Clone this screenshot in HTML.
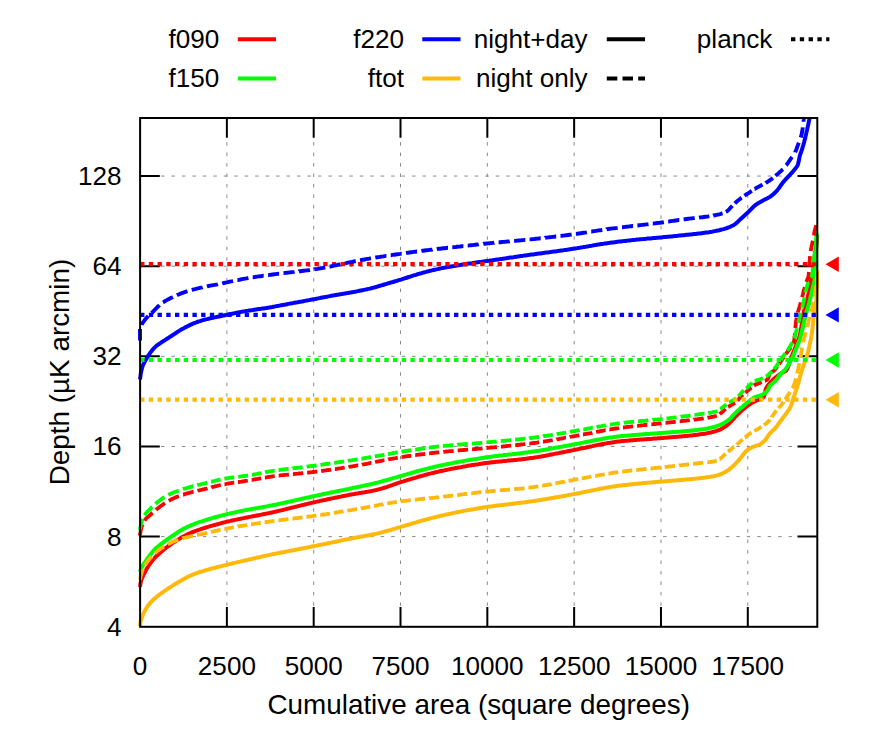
<!DOCTYPE html>
<html><head><meta charset="utf-8"><title>Depth vs cumulative area</title>
<style>html,body{margin:0;padding:0;background:#fff}svg{display:block}text{font-family:"Liberation Sans",sans-serif;font-size:26.10px;fill:#000}</style></head><body>
<svg width="872" height="733" viewBox="0 0 872 733">
<rect x="0" y="0" width="872" height="733" fill="#ffffff"/>
<defs><clipPath id="c"><rect x="137.6" y="118.0" width="682.2" height="510.8"/></clipPath></defs>
<g stroke="#8a8a8a" stroke-width="1.0" stroke-dasharray="3.5 6.96" fill="none">
<path d="M226.87 626.8 V118.0"/>
<path d="M313.69 626.8 V118.0"/>
<path d="M400.51 626.8 V118.0"/>
<path d="M487.33 626.8 V118.0"/>
<path d="M574.15 626.8 V118.0"/>
<path d="M660.97 626.8 V118.0"/>
<path d="M747.79 626.8 V118.0"/>
<path d="M140.1 536.61 H817.2"/>
<path d="M140.1 446.47 H817.2"/>
<path d="M140.1 356.33 H817.2"/>
<path d="M140.1 266.19 H817.2"/>
<path d="M140.1 176.05 H817.2"/>
</g>
<g stroke="#000" stroke-width="2" fill="none">
<path d="M226.87 626.8 v-19.7 M226.87 118.0 v19.7"/>
<path d="M313.69 626.8 v-19.7 M313.69 118.0 v19.7"/>
<path d="M400.51 626.8 v-19.7 M400.51 118.0 v19.7"/>
<path d="M487.33 626.8 v-19.7 M487.33 118.0 v19.7"/>
<path d="M574.15 626.8 v-19.7 M574.15 118.0 v19.7"/>
<path d="M660.97 626.8 v-19.7 M660.97 118.0 v19.7"/>
<path d="M747.79 626.8 v-19.7 M747.79 118.0 v19.7"/>
<path d="M140.1 536.61 h19.7 M817.2 536.61 h-19.7"/>
<path d="M140.1 446.47 h19.7 M817.2 446.47 h-19.7"/>
<path d="M140.1 356.33 h19.7 M817.2 356.33 h-19.7"/>
<path d="M140.1 266.19 h19.7 M817.2 266.19 h-19.7"/>
<path d="M140.1 176.05 h19.7 M817.2 176.05 h-19.7"/>
</g>
<g clip-path="url(#c)" fill="none" stroke-width="4.0" stroke-linejoin="round">
<path stroke="#ff0000" d="M140.0 587.0 L140.2 585.5 L140.4 584.0 L140.7 582.5 L141.0 581.1 L141.4 579.6 L142.0 578.2 L142.6 576.8 L143.2 575.5 L143.9 574.1 L144.6 572.8 L145.3 571.4 L146.0 570.1 L146.7 568.8 L147.5 567.5 L148.3 566.2 L149.1 565.0 L150.0 563.7 L150.9 562.5 L151.8 561.3 L152.7 560.1 L153.7 559.0 L154.7 557.8 L155.7 556.8 L156.8 555.7 L157.9 554.7 L159.0 553.7 L160.1 552.7 L161.3 551.7 L162.4 550.7 L163.6 549.8 L164.7 548.8 L165.9 547.9 L167.1 547.0 L168.3 546.1 L169.5 545.2 L170.8 544.3 L172.0 543.5 L173.2 542.6 L174.5 541.8 L175.7 541.0 L177.0 540.1 L178.3 539.4 L179.6 538.6 L180.9 537.8 L182.2 537.1 L183.5 536.4 L184.8 535.7 L186.2 535.0 L187.5 534.3 L188.9 533.7 L190.3 533.1 L191.6 532.5 L193.0 532.0 L194.4 531.4 L195.8 530.9 L197.3 530.4 L198.7 529.9 L200.1 529.4 L201.5 528.9 L203.0 528.4 L204.4 528.0 L205.8 527.5 L207.3 527.1 L208.7 526.7 L210.2 526.2 L211.6 525.8 L213.0 525.4 L214.5 525.0 L215.9 524.6 L217.4 524.2 L218.8 523.8 L220.3 523.4 L221.8 523.0 L223.2 522.6 L224.7 522.3 L226.1 521.9 L227.6 521.6 L229.1 521.2 L230.5 520.9 L232.0 520.5 L233.5 520.2 L234.9 519.9 L236.4 519.6 L237.9 519.3 L239.4 519.0 L240.8 518.7 L242.3 518.4 L243.8 518.1 L245.3 517.8 L246.7 517.5 L248.2 517.2 L249.7 516.9 L251.2 516.6 L252.7 516.3 L254.1 516.1 L255.6 515.8 L257.1 515.5 L258.6 515.2 L260.0 514.9 L261.5 514.6 L263.0 514.3 L264.5 514.0 L265.9 513.7 L267.4 513.4 L268.9 513.1 L270.4 512.8 L271.8 512.5 L273.3 512.1 L274.8 511.8 L276.2 511.5 L277.7 511.1 L279.2 510.8 L280.6 510.4 L282.1 510.1 L283.6 509.7 L285.0 509.4 L286.5 509.0 L287.9 508.6 L289.4 508.3 L290.9 507.9 L292.3 507.5 L293.8 507.2 L295.2 506.8 L296.7 506.5 L298.2 506.1 L299.6 505.7 L301.1 505.4 L302.6 505.0 L304.0 504.7 L305.5 504.3 L306.9 504.0 L308.4 503.6 L309.9 503.3 L311.3 502.9 L312.8 502.6 L314.3 502.3 L315.7 501.9 L317.2 501.6 L318.7 501.3 L320.1 500.9 L321.6 500.6 L323.1 500.3 L324.6 500.0 L326.0 499.7 L327.5 499.3 L329.0 499.0 L330.4 498.7 L331.9 498.4 L333.4 498.1 L334.9 497.8 L336.3 497.5 L337.8 497.2 L339.3 496.9 L340.8 496.6 L342.2 496.3 L343.7 496.0 L345.2 495.7 L346.7 495.4 L348.1 495.1 L349.6 494.8 L351.1 494.5 L352.6 494.2 L354.1 494.0 L355.5 493.7 L357.0 493.4 L358.5 493.2 L360.0 492.9 L361.5 492.7 L363.0 492.4 L364.5 492.2 L365.9 491.9 L367.4 491.7 L368.9 491.4 L370.4 491.2 L371.9 490.9 L373.3 490.6 L374.8 490.3 L376.3 490.0 L377.7 489.6 L379.2 489.2 L380.6 488.8 L382.1 488.4 L383.5 488.0 L384.9 487.5 L386.4 487.1 L387.8 486.6 L389.2 486.1 L390.6 485.6 L392.1 485.1 L393.5 484.6 L394.9 484.1 L396.3 483.6 L397.8 483.1 L399.2 482.7 L400.6 482.2 L402.1 481.7 L403.5 481.3 L404.9 480.8 L406.4 480.4 L407.8 479.9 L409.3 479.5 L410.7 479.1 L412.1 478.6 L413.6 478.2 L415.0 477.8 L416.5 477.3 L417.9 476.9 L419.4 476.5 L420.8 476.1 L422.3 475.7 L423.7 475.3 L425.2 474.9 L426.6 474.5 L428.1 474.1 L429.5 473.7 L431.0 473.4 L432.5 473.0 L433.9 472.7 L435.4 472.3 L436.8 472.0 L438.3 471.6 L439.8 471.3 L441.2 471.0 L442.7 470.7 L444.2 470.4 L445.7 470.0 L447.1 469.7 L448.6 469.4 L450.1 469.1 L451.5 468.8 L453.0 468.6 L454.5 468.3 L456.0 468.0 L457.5 467.7 L458.9 467.4 L460.4 467.2 L461.9 466.9 L463.4 466.6 L464.9 466.4 L466.4 466.1 L467.9 465.8 L469.3 465.6 L470.8 465.3 L472.3 465.1 L473.8 464.9 L475.3 464.6 L476.8 464.4 L478.3 464.2 L479.8 463.9 L481.2 463.7 L482.7 463.5 L484.2 463.3 L485.7 463.1 L487.2 462.9 L488.7 462.7 L490.2 462.5 L491.7 462.3 L493.2 462.2 L494.7 462.0 L496.2 461.8 L497.7 461.7 L499.2 461.5 L500.7 461.4 L502.2 461.2 L503.7 461.1 L505.2 460.9 L506.7 460.8 L508.2 460.6 L509.7 460.5 L511.2 460.3 L512.7 460.2 L514.2 460.0 L515.7 459.9 L517.1 459.7 L518.6 459.6 L520.1 459.4 L521.6 459.2 L523.1 459.1 L524.6 458.9 L526.1 458.7 L527.6 458.5 L529.1 458.3 L530.6 458.1 L532.1 457.9 L533.6 457.7 L535.0 457.4 L536.5 457.2 L538.0 457.0 L539.5 456.7 L541.0 456.5 L542.5 456.2 L543.9 455.9 L545.4 455.7 L546.9 455.4 L548.4 455.1 L549.9 454.8 L551.3 454.5 L552.8 454.2 L554.3 453.9 L555.8 453.6 L557.2 453.4 L558.7 453.1 L560.2 452.8 L561.7 452.5 L563.2 452.2 L564.6 451.9 L566.1 451.6 L567.6 451.3 L569.1 451.0 L570.5 450.7 L572.0 450.4 L573.5 450.1 L575.0 449.8 L576.5 449.5 L577.9 449.2 L579.4 448.9 L580.9 448.6 L582.4 448.3 L583.8 448.0 L585.3 447.7 L586.8 447.3 L588.3 447.0 L589.7 446.7 L591.2 446.4 L592.7 446.1 L594.2 445.7 L595.6 445.4 L597.1 445.1 L598.6 444.8 L600.1 444.5 L601.5 444.2 L603.0 443.9 L604.5 443.7 L606.0 443.4 L607.5 443.1 L608.9 442.9 L610.4 442.7 L611.9 442.4 L613.4 442.2 L614.9 442.0 L616.4 441.8 L617.8 441.6 L619.3 441.5 L620.8 441.3 L622.3 441.1 L623.8 441.0 L625.3 440.8 L626.8 440.7 L628.3 440.6 L629.8 440.4 L631.3 440.3 L632.8 440.2 L634.3 440.1 L635.8 440.0 L637.3 439.8 L638.8 439.7 L640.3 439.6 L641.8 439.5 L643.3 439.4 L644.8 439.3 L646.3 439.2 L647.8 439.1 L649.3 439.0 L650.8 438.9 L652.3 438.8 L653.8 438.6 L655.3 438.5 L656.8 438.4 L658.3 438.3 L659.9 438.2 L661.4 438.1 L662.9 437.9 L664.4 437.8 L665.9 437.7 L667.4 437.6 L668.9 437.5 L670.4 437.3 L671.9 437.2 L673.4 437.1 L674.9 437.0 L676.4 436.8 L677.9 436.7 L679.4 436.6 L680.9 436.5 L682.4 436.3 L683.9 436.2 L685.4 436.0 L686.9 435.9 L688.4 435.7 L689.9 435.6 L691.4 435.4 L692.9 435.3 L694.3 435.1 L695.8 434.9 L697.3 434.7 L698.8 434.5 L700.3 434.3 L701.8 434.1 L703.3 433.9 L704.8 433.7 L706.3 433.4 L707.8 433.1 L709.3 432.8 L710.8 432.5 L712.2 432.1 L713.7 431.7 L715.1 431.3 L716.5 430.9 L717.9 430.4 L719.3 429.9 L720.7 429.2 L722.0 428.5 L723.4 427.7 L724.6 426.9 L725.9 426.1 L727.1 425.2 L728.2 424.3 L729.3 423.3 L730.4 422.2 L731.4 421.1 L732.4 420.0 L733.5 418.9 L734.5 417.7 L735.5 416.6 L736.6 415.5 L737.6 414.5 L738.7 413.4 L739.8 412.4 L741.0 411.4 L742.1 410.3 L743.2 409.3 L744.3 408.4 L745.5 407.4 L746.7 406.5 L747.9 405.6 L749.1 404.7 L750.4 403.9 L751.6 403.0 L752.9 402.3 L754.3 401.6 L755.6 400.9 L757.0 400.4 L758.4 399.9 L759.9 399.3 L761.3 398.7 L762.7 398.0 L763.6 397.0 L764.3 395.6 L764.8 394.1 L765.1 392.7 L765.4 391.2 L765.6 389.7 L766.1 388.3 L766.9 387.0 L767.7 385.7 L768.6 384.5 L769.6 383.4 L770.6 382.3 L771.7 381.2 L772.7 380.1 L773.8 379.0 L774.9 378.0 L776.1 377.1 L777.3 376.2 L778.5 375.3 L779.7 374.4 L780.9 373.5 L782.2 372.7 L783.5 372.0 L785.0 371.4 L786.1 370.7 L786.9 369.4 L787.6 368.0 L788.2 366.6 L788.7 365.2 L789.1 363.7 L789.6 362.3 L790.1 360.9 L790.6 359.4 L791.2 358.0 L791.7 356.6 L792.2 355.2 L792.8 353.8 L793.3 352.4 L793.9 351.0 L794.5 349.6 L795.1 348.3 L795.6 346.9 L796.2 345.4 L796.7 344.0 L797.3 342.7 L797.9 341.3 L798.4 339.9 L798.9 338.4 L799.4 337.0 L799.8 335.6 L800.1 334.1 L800.4 332.6 L800.7 331.1 L801.0 329.7 L801.2 328.2 L801.4 326.7 L801.7 325.2 L801.9 323.7 L802.1 322.2 L802.3 320.7 L802.5 319.2 L802.8 317.7 L803.0 316.3 L803.2 314.8 L803.5 313.3 L803.9 311.8 L804.2 310.4 L804.6 308.9 L805.0 307.5 L805.4 306.0 L805.8 304.6 L806.2 303.1 L806.6 301.6 L806.9 300.2 L807.3 298.7 L807.7 297.3 L808.1 295.8 L808.4 294.3 L808.8 292.9 L809.1 291.4 L809.4 289.9 L809.7 288.5 L809.9 287.0 L810.1 285.5 L810.4 284.0 L810.6 282.5 L810.9 281.0 L811.3 279.6 L811.9 278.2 L812.6 276.8 L813.0 275.4 L813.1 273.9 L813.2 272.4 L813.3 270.9 L813.4 269.4 L813.5 267.9 L813.5 266.4 L813.6 264.9 L813.8 263.4 L813.9 261.9 L814.1 260.4 L814.3 258.9 L814.5 257.4 L814.7 255.9 L814.9 254.4 L815.1 252.9 L815.4 251.4 L815.6 249.9 L815.8 248.5 L816.1 247.0 L816.3 245.5 L816.5 244.0 L816.6 242.5 L816.8 241.0 L816.9 239.5 L817.1 238.0 L817.2 236.5 L817.3 235.0"/>
<path stroke="#00ff00" d="M140.0 572.0 L140.4 570.5 L140.9 569.1 L141.5 567.7 L142.2 566.4 L143.0 565.1 L143.8 563.9 L144.6 562.6 L145.5 561.4 L146.4 560.1 L147.2 558.9 L148.1 557.7 L149.0 556.5 L149.9 555.3 L150.8 554.1 L151.7 552.9 L152.7 551.7 L153.6 550.6 L154.6 549.5 L155.7 548.4 L156.8 547.4 L158.0 546.5 L159.2 545.5 L160.3 544.6 L161.5 543.7 L162.7 542.8 L163.9 541.9 L165.2 541.0 L166.4 540.1 L167.6 539.2 L168.8 538.4 L170.1 537.5 L171.3 536.7 L172.5 535.8 L173.8 535.0 L175.0 534.1 L176.3 533.3 L177.5 532.5 L178.8 531.6 L180.1 530.8 L181.4 530.1 L182.7 529.3 L184.0 528.6 L185.3 527.9 L186.6 527.2 L188.0 526.6 L189.4 526.0 L190.7 525.4 L192.1 524.8 L193.5 524.3 L194.9 523.7 L196.3 523.2 L197.8 522.7 L199.2 522.2 L200.6 521.7 L202.0 521.3 L203.5 520.8 L204.9 520.3 L206.3 519.9 L207.8 519.4 L209.2 519.0 L210.7 518.6 L212.1 518.2 L213.5 517.7 L215.0 517.3 L216.4 516.9 L217.9 516.5 L219.4 516.1 L220.8 515.7 L222.3 515.4 L223.7 515.0 L225.2 514.6 L226.6 514.3 L228.1 513.9 L229.6 513.6 L231.0 513.2 L232.5 512.9 L234.0 512.6 L235.4 512.3 L236.9 511.9 L238.4 511.6 L239.9 511.3 L241.3 511.0 L242.8 510.7 L244.3 510.4 L245.8 510.1 L247.2 509.9 L248.7 509.6 L250.2 509.3 L251.7 509.0 L253.1 508.8 L254.6 508.5 L256.1 508.2 L257.6 508.0 L259.1 507.7 L260.6 507.4 L262.0 507.2 L263.5 506.9 L265.0 506.7 L266.5 506.4 L268.0 506.1 L269.4 505.8 L270.9 505.5 L272.4 505.3 L273.9 505.0 L275.3 504.7 L276.8 504.4 L278.3 504.0 L279.8 503.7 L281.2 503.4 L282.7 503.1 L284.2 502.8 L285.6 502.5 L287.1 502.1 L288.6 501.8 L290.0 501.5 L291.5 501.1 L293.0 500.8 L294.4 500.5 L295.9 500.1 L297.4 499.8 L298.8 499.5 L300.3 499.1 L301.8 498.8 L303.2 498.5 L304.7 498.1 L306.2 497.8 L307.7 497.5 L309.1 497.2 L310.6 496.8 L312.1 496.5 L313.5 496.2 L315.0 495.9 L316.5 495.6 L317.9 495.3 L319.4 495.0 L320.9 494.7 L322.4 494.3 L323.8 494.0 L325.3 493.7 L326.8 493.4 L328.3 493.1 L329.7 492.8 L331.2 492.5 L332.7 492.2 L334.1 491.9 L335.6 491.6 L337.1 491.3 L338.6 491.0 L340.0 490.7 L341.5 490.4 L343.0 490.1 L344.5 489.8 L345.9 489.5 L347.4 489.2 L348.9 488.9 L350.4 488.5 L351.8 488.2 L353.3 487.9 L354.8 487.6 L356.2 487.3 L357.7 487.0 L359.2 486.7 L360.7 486.4 L362.1 486.1 L363.6 485.8 L365.1 485.4 L366.5 485.1 L368.0 484.8 L369.5 484.5 L371.0 484.1 L372.4 483.8 L373.9 483.5 L375.3 483.1 L376.8 482.7 L378.3 482.4 L379.7 482.0 L381.2 481.6 L382.6 481.2 L384.1 480.8 L385.5 480.4 L387.0 480.0 L388.4 479.6 L389.9 479.2 L391.3 478.7 L392.7 478.3 L394.2 477.9 L395.6 477.5 L397.1 477.1 L398.5 476.6 L400.0 476.2 L401.4 475.8 L402.9 475.4 L404.3 475.0 L405.8 474.6 L407.2 474.2 L408.7 473.7 L410.1 473.3 L411.6 472.9 L413.0 472.5 L414.5 472.1 L415.9 471.7 L417.4 471.3 L418.8 470.9 L420.3 470.5 L421.7 470.1 L423.2 469.7 L424.6 469.3 L426.1 468.9 L427.5 468.6 L429.0 468.2 L430.4 467.8 L431.9 467.5 L433.4 467.1 L434.8 466.8 L436.3 466.5 L437.8 466.1 L439.2 465.8 L440.7 465.5 L442.2 465.2 L443.6 464.9 L445.1 464.6 L446.6 464.3 L448.1 464.0 L449.5 463.7 L451.0 463.4 L452.5 463.1 L454.0 462.8 L455.4 462.5 L456.9 462.2 L458.4 462.0 L459.9 461.7 L461.4 461.4 L462.8 461.2 L464.3 460.9 L465.8 460.6 L467.3 460.4 L468.8 460.1 L470.3 459.9 L471.7 459.6 L473.2 459.4 L474.7 459.1 L476.2 458.9 L477.7 458.7 L479.2 458.4 L480.7 458.2 L482.2 458.0 L483.6 457.8 L485.1 457.5 L486.6 457.3 L488.1 457.1 L489.6 456.9 L491.1 456.7 L492.6 456.5 L494.1 456.3 L495.6 456.1 L497.1 456.0 L498.5 455.8 L500.0 455.6 L501.5 455.4 L503.0 455.3 L504.5 455.1 L506.0 454.9 L507.5 454.8 L509.0 454.6 L510.5 454.4 L512.0 454.3 L513.5 454.1 L515.0 453.9 L516.5 453.7 L518.0 453.6 L519.5 453.4 L521.0 453.2 L522.5 453.0 L524.0 452.8 L525.5 452.6 L526.9 452.4 L528.4 452.2 L529.9 452.0 L531.4 451.8 L532.9 451.6 L534.4 451.4 L535.9 451.1 L537.4 450.9 L538.8 450.7 L540.3 450.4 L541.8 450.2 L543.3 449.9 L544.8 449.7 L546.3 449.4 L547.7 449.2 L549.2 448.9 L550.7 448.6 L552.2 448.4 L553.7 448.1 L555.1 447.8 L556.6 447.6 L558.1 447.3 L559.6 447.0 L561.1 446.7 L562.5 446.5 L564.0 446.2 L565.5 445.9 L567.0 445.7 L568.5 445.4 L569.9 445.1 L571.4 444.8 L572.9 444.6 L574.4 444.3 L575.9 444.0 L577.3 443.7 L578.8 443.5 L580.3 443.2 L581.8 442.9 L583.3 442.6 L584.7 442.3 L586.2 442.0 L587.7 441.7 L589.2 441.4 L590.7 441.1 L592.1 440.8 L593.6 440.5 L595.1 440.2 L596.6 440.0 L598.0 439.7 L599.5 439.4 L601.0 439.1 L602.5 438.8 L604.0 438.6 L605.4 438.3 L606.9 438.1 L608.4 437.8 L609.9 437.6 L611.4 437.4 L612.9 437.2 L614.4 437.0 L615.8 436.8 L617.3 436.6 L618.8 436.4 L620.3 436.3 L621.8 436.1 L623.3 435.9 L624.8 435.8 L626.3 435.7 L627.8 435.5 L629.3 435.4 L630.8 435.3 L632.3 435.1 L633.8 435.0 L635.3 434.9 L636.8 434.8 L638.3 434.7 L639.8 434.6 L641.3 434.5 L642.8 434.3 L644.3 434.2 L645.8 434.1 L647.3 434.0 L648.8 433.9 L650.3 433.8 L651.8 433.7 L653.3 433.6 L654.8 433.5 L656.3 433.4 L657.8 433.2 L659.3 433.1 L660.8 433.0 L662.3 432.9 L663.8 432.8 L665.3 432.7 L666.8 432.6 L668.3 432.5 L669.8 432.3 L671.3 432.2 L672.8 432.1 L674.3 432.0 L675.8 431.9 L677.3 431.8 L678.8 431.7 L680.3 431.6 L681.8 431.4 L683.3 431.3 L684.8 431.2 L686.3 431.1 L687.8 430.9 L689.3 430.8 L690.8 430.6 L692.3 430.5 L693.8 430.3 L695.3 430.2 L696.8 430.0 L698.3 429.8 L699.8 429.6 L701.3 429.4 L702.8 429.2 L704.3 429.0 L705.8 428.7 L707.3 428.5 L708.7 428.2 L710.2 427.8 L711.7 427.5 L713.2 427.1 L714.6 426.8 L716.0 426.4 L717.4 425.9 L718.8 425.4 L720.2 424.9 L721.6 424.2 L723.0 423.5 L724.3 422.8 L725.6 422.0 L726.9 421.2 L728.1 420.4 L729.2 419.4 L730.3 418.4 L731.4 417.3 L732.4 416.2 L733.4 415.1 L734.5 414.0 L735.5 412.9 L736.6 411.8 L737.7 410.8 L738.9 409.8 L740.0 408.8 L741.1 407.8 L742.3 406.9 L743.4 405.9 L744.6 404.9 L745.7 404.0 L746.9 403.0 L748.1 402.1 L749.3 401.1 L750.5 400.1 L751.6 399.2 L752.9 398.3 L754.1 397.5 L755.5 396.9 L756.9 396.5 L758.4 396.1 L759.8 395.7 L761.2 395.1 L762.6 394.5 L763.9 393.8 L765.2 393.0 L766.3 392.0 L767.2 390.8 L768.0 389.5 L768.7 388.1 L769.3 386.7 L770.1 385.5 L771.2 384.5 L772.4 383.5 L773.5 382.5 L774.7 381.5 L775.7 380.5 L776.7 379.3 L777.6 378.1 L778.5 376.9 L779.4 375.7 L780.3 374.5 L781.4 373.4 L782.4 372.4 L783.5 371.3 L784.6 370.3 L785.5 369.1 L786.4 367.9 L787.2 366.6 L788.0 365.3 L788.8 364.1 L789.6 362.8 L790.4 361.5 L791.1 360.2 L791.8 358.8 L792.5 357.5 L793.1 356.1 L793.7 354.7 L794.2 353.3 L794.8 351.9 L795.3 350.5 L795.9 349.1 L796.5 347.7 L797.0 346.3 L797.6 344.9 L798.1 343.5 L798.7 342.2 L799.3 340.8 L799.8 339.4 L800.2 337.9 L800.6 336.5 L801.0 335.0 L801.4 333.5 L801.7 332.1 L802.1 330.6 L802.4 329.1 L802.8 327.7 L803.1 326.2 L803.4 324.8 L803.8 323.3 L804.1 321.8 L804.4 320.3 L804.8 318.9 L805.1 317.4 L805.5 316.0 L805.8 314.5 L806.2 313.0 L806.6 311.6 L807.1 310.2 L807.5 308.7 L807.9 307.3 L808.3 305.8 L808.8 304.4 L809.2 302.9 L809.5 301.5 L809.9 300.0 L810.2 298.6 L810.6 297.1 L810.9 295.6 L811.3 294.2 L811.6 292.7 L811.9 291.2 L812.3 289.8 L812.6 288.3 L813.0 286.8 L813.3 285.4 L813.7 283.9 L814.0 282.4 L814.4 281.0 L814.7 279.5 L815.1 278.0 L815.5 276.6 L815.7 275.1 L815.8 273.6 L815.9 272.1 L815.9 270.6 L816.0 269.1 L816.0 267.6 L816.1 266.1 L816.1 264.6 L816.1 263.1 L816.1 261.6 L816.1 260.1 L816.1 258.6 L816.1 257.1 L816.1 255.5 L816.1 254.0 L816.1 252.5 L816.1 251.0 L816.2 249.5 L816.2 248.0 L816.2 246.5 L816.2 245.0 L816.2 243.5 L816.2 242.0 L816.3 240.5 L816.3 239.0 L816.4 237.5 L816.6 236.0 L816.7 234.5 L816.8 233.0"/>
<path stroke="#0000ff" d="M140.0 379.5 L140.2 378.0 L140.4 376.5 L140.6 375.0 L140.8 373.5 L141.1 372.0 L141.4 370.6 L141.8 369.1 L142.1 367.6 L142.6 366.2 L143.1 364.8 L143.8 363.5 L144.5 362.1 L145.2 360.8 L146.0 359.5 L146.7 358.2 L147.5 356.9 L148.3 355.7 L149.2 354.4 L150.0 353.2 L150.9 351.9 L151.8 350.7 L152.7 349.6 L153.7 348.5 L154.8 347.4 L155.9 346.3 L157.0 345.4 L158.2 344.5 L159.5 343.7 L160.7 342.8 L161.9 342.0 L163.2 341.2 L164.5 340.4 L165.7 339.6 L167.0 338.8 L168.3 338.0 L169.5 337.2 L170.8 336.3 L172.0 335.5 L173.3 334.7 L174.6 333.8 L175.8 333.0 L177.1 332.2 L178.3 331.4 L179.6 330.6 L180.9 329.8 L182.2 329.1 L183.5 328.4 L184.8 327.6 L186.2 326.9 L187.5 326.2 L188.8 325.6 L190.2 324.9 L191.5 324.3 L192.9 323.7 L194.3 323.1 L195.7 322.6 L197.1 322.0 L198.5 321.5 L200.0 321.1 L201.4 320.6 L202.8 320.2 L204.3 319.8 L205.7 319.4 L207.2 319.1 L208.7 318.7 L210.1 318.4 L211.6 318.1 L213.1 317.7 L214.5 317.4 L216.0 317.1 L217.5 316.8 L218.9 316.5 L220.4 316.2 L221.9 315.8 L223.4 315.5 L224.8 315.2 L226.3 314.9 L227.8 314.6 L229.2 314.3 L230.7 314.0 L232.2 313.7 L233.7 313.4 L235.1 313.1 L236.6 312.8 L238.1 312.5 L239.6 312.2 L241.0 311.9 L242.5 311.6 L244.0 311.4 L245.5 311.1 L247.0 310.9 L248.5 310.6 L249.9 310.4 L251.4 310.2 L252.9 310.0 L254.4 309.7 L255.9 309.5 L257.4 309.3 L258.9 309.1 L260.4 308.9 L261.8 308.6 L263.3 308.4 L264.8 308.2 L266.3 308.0 L267.8 307.7 L269.3 307.5 L270.8 307.2 L272.2 307.0 L273.7 306.7 L275.2 306.4 L276.7 306.1 L278.2 305.9 L279.6 305.6 L281.1 305.3 L282.6 305.0 L284.1 304.7 L285.5 304.5 L287.0 304.2 L288.5 303.9 L290.0 303.6 L291.5 303.4 L292.9 303.1 L294.4 302.8 L295.9 302.5 L297.4 302.3 L298.9 302.0 L300.3 301.7 L301.8 301.5 L303.3 301.2 L304.8 300.9 L306.3 300.6 L307.7 300.4 L309.2 300.1 L310.7 299.8 L312.2 299.5 L313.7 299.2 L315.1 299.0 L316.6 298.7 L318.1 298.4 L319.6 298.1 L321.0 297.8 L322.5 297.5 L324.0 297.2 L325.5 296.9 L326.9 296.7 L328.4 296.4 L329.9 296.1 L331.4 295.8 L332.9 295.5 L334.3 295.3 L335.8 295.0 L337.3 294.7 L338.8 294.5 L340.3 294.2 L341.7 294.0 L343.2 293.7 L344.7 293.5 L346.2 293.2 L347.7 293.0 L349.2 292.7 L350.6 292.5 L352.1 292.2 L353.6 291.9 L355.1 291.7 L356.6 291.4 L358.0 291.1 L359.5 290.8 L361.0 290.5 L362.5 290.2 L363.9 289.9 L365.4 289.6 L366.9 289.3 L368.3 288.9 L369.8 288.6 L371.3 288.2 L372.7 287.8 L374.2 287.5 L375.6 287.1 L377.1 286.7 L378.5 286.2 L380.0 285.8 L381.4 285.4 L382.8 285.0 L384.3 284.5 L385.7 284.1 L387.2 283.7 L388.6 283.2 L390.1 282.8 L391.5 282.4 L392.9 282.0 L394.4 281.5 L395.8 281.1 L397.3 280.7 L398.7 280.2 L400.1 279.8 L401.6 279.4 L403.0 278.9 L404.4 278.4 L405.9 278.0 L407.3 277.5 L408.7 277.0 L410.2 276.6 L411.6 276.1 L413.0 275.7 L414.5 275.2 L415.9 274.8 L417.3 274.3 L418.8 273.9 L420.2 273.5 L421.7 273.1 L423.1 272.6 L424.6 272.2 L426.0 271.9 L427.5 271.5 L428.9 271.1 L430.4 270.7 L431.9 270.4 L433.3 270.0 L434.8 269.7 L436.3 269.4 L437.7 269.1 L439.2 268.7 L440.7 268.4 L442.1 268.1 L443.6 267.9 L445.1 267.6 L446.6 267.3 L448.1 267.0 L449.5 266.8 L451.0 266.5 L452.5 266.2 L454.0 266.0 L455.5 265.7 L457.0 265.5 L458.4 265.2 L459.9 265.0 L461.4 264.7 L462.9 264.5 L464.4 264.3 L465.9 264.0 L467.4 263.8 L468.8 263.6 L470.3 263.4 L471.8 263.2 L473.3 262.9 L474.8 262.7 L476.3 262.5 L477.8 262.3 L479.3 262.1 L480.8 261.9 L482.2 261.7 L483.7 261.5 L485.2 261.3 L486.7 261.1 L488.2 260.9 L489.7 260.6 L491.2 260.4 L492.7 260.2 L494.2 260.0 L495.7 259.8 L497.1 259.6 L498.6 259.4 L500.1 259.1 L501.6 258.9 L503.1 258.7 L504.6 258.5 L506.1 258.3 L507.6 258.0 L509.1 257.8 L510.5 257.6 L512.0 257.4 L513.5 257.2 L515.0 256.9 L516.5 256.7 L518.0 256.5 L519.5 256.3 L521.0 256.1 L522.5 255.9 L523.9 255.6 L525.4 255.4 L526.9 255.2 L528.4 255.0 L529.9 254.8 L531.4 254.6 L532.9 254.4 L534.4 254.2 L535.9 254.0 L537.4 253.8 L538.8 253.6 L540.3 253.4 L541.8 253.2 L543.3 253.0 L544.8 252.8 L546.3 252.6 L547.8 252.4 L549.3 252.2 L550.8 252.0 L552.3 251.8 L553.8 251.6 L555.2 251.4 L556.7 251.2 L558.2 251.0 L559.7 250.8 L561.2 250.6 L562.7 250.4 L564.2 250.1 L565.7 249.9 L567.2 249.7 L568.7 249.5 L570.1 249.3 L571.6 249.1 L573.1 248.8 L574.6 248.6 L576.1 248.4 L577.6 248.1 L579.1 247.9 L580.5 247.6 L582.0 247.4 L583.5 247.1 L585.0 246.9 L586.5 246.6 L588.0 246.4 L589.4 246.1 L590.9 245.9 L592.4 245.6 L593.9 245.3 L595.4 245.1 L596.9 244.8 L598.3 244.6 L599.8 244.3 L601.3 244.1 L602.8 243.9 L604.3 243.6 L605.8 243.4 L607.3 243.2 L608.7 243.0 L610.2 242.8 L611.7 242.6 L613.2 242.4 L614.7 242.2 L616.2 242.0 L617.7 241.8 L619.2 241.6 L620.7 241.4 L622.2 241.2 L623.7 241.1 L625.2 240.9 L626.7 240.7 L628.2 240.6 L629.6 240.4 L631.1 240.2 L632.6 240.1 L634.1 239.9 L635.6 239.8 L637.1 239.6 L638.6 239.5 L640.1 239.3 L641.6 239.2 L643.1 239.1 L644.6 238.9 L646.1 238.8 L647.6 238.6 L649.1 238.5 L650.6 238.4 L652.1 238.2 L653.6 238.1 L655.1 238.0 L656.6 237.8 L658.1 237.7 L659.6 237.5 L661.1 237.4 L662.6 237.2 L664.1 237.1 L665.6 237.0 L667.1 236.8 L668.6 236.7 L670.1 236.5 L671.6 236.4 L673.1 236.2 L674.6 236.1 L676.1 235.9 L677.6 235.8 L679.1 235.6 L680.6 235.5 L682.1 235.3 L683.6 235.2 L685.1 235.0 L686.5 234.8 L688.0 234.7 L689.5 234.5 L691.0 234.4 L692.5 234.2 L694.0 234.0 L695.5 233.9 L697.0 233.7 L698.5 233.5 L700.0 233.4 L701.5 233.2 L703.0 233.0 L704.5 232.8 L706.0 232.6 L707.5 232.4 L709.0 232.2 L710.4 231.9 L711.9 231.7 L713.4 231.4 L714.9 231.1 L716.4 230.8 L717.9 230.5 L719.3 230.2 L720.8 229.8 L722.2 229.4 L723.7 229.1 L725.1 228.6 L726.6 228.2 L728.0 227.6 L729.4 227.1 L730.8 226.5 L732.2 225.8 L733.5 225.2 L734.7 224.4 L735.9 223.5 L737.0 222.5 L738.1 221.5 L739.2 220.4 L740.4 219.3 L741.5 218.3 L742.6 217.3 L743.7 216.3 L744.8 215.3 L745.9 214.3 L747.0 213.2 L748.1 212.2 L749.2 211.1 L750.3 210.1 L751.3 209.0 L752.4 207.9 L753.4 206.8 L754.6 205.8 L755.7 204.9 L756.9 204.0 L758.2 203.2 L759.5 202.4 L760.8 201.7 L762.1 201.0 L763.4 200.2 L764.8 199.5 L766.1 198.9 L767.5 198.2 L768.8 197.4 L770.1 196.7 L771.3 195.8 L772.5 194.9 L773.6 193.9 L774.8 192.9 L775.8 191.8 L776.9 190.8 L777.8 189.6 L778.7 188.4 L779.6 187.2 L780.4 185.9 L781.3 184.7 L782.2 183.5 L783.1 182.3 L784.1 181.1 L785.1 180.0 L786.1 178.9 L787.1 177.8 L788.2 176.7 L789.2 175.6 L790.2 174.5 L791.2 173.4 L792.2 172.3 L793.3 171.1 L794.2 170.0 L795.2 168.8 L796.1 167.6 L797.0 166.4 L797.7 165.1 L798.1 163.7 L798.5 162.3 L798.8 160.8 L799.1 159.3 L799.4 157.8 L799.7 156.3 L800.1 154.9 L800.6 153.4 L801.1 152.0 L801.6 150.6 L802.1 149.2 L802.5 147.7 L802.9 146.3 L803.4 144.8 L803.8 143.4 L804.2 141.9 L804.5 140.5 L804.9 139.0 L805.3 137.6 L805.6 136.1 L806.0 134.6 L806.3 133.2 L806.6 131.7 L807.0 130.2 L807.3 128.8 L807.6 127.3 L808.0 125.8 L808.3 124.4 L808.6 122.9 L808.9 121.4 L809.2 119.9 L809.5 118.5 L809.8 117.0 L810.0 115.5 L810.2 114.0"/>
<path stroke="#ffb90a" d="M140.0 626.0 L140.1 624.5 L140.3 623.0 L140.6 621.5 L141.0 620.1 L141.5 618.7 L142.0 617.2 L142.5 615.8 L143.1 614.4 L143.7 613.1 L144.4 611.7 L145.1 610.4 L145.8 609.1 L146.6 607.8 L147.4 606.5 L148.3 605.3 L149.2 604.1 L150.2 602.9 L151.2 601.8 L152.2 600.8 L153.3 599.7 L154.4 598.7 L155.6 597.8 L156.7 596.8 L157.9 595.8 L159.1 594.9 L160.3 594.0 L161.5 593.1 L162.7 592.3 L163.9 591.4 L165.1 590.5 L166.4 589.7 L167.6 588.9 L168.9 588.0 L170.2 587.2 L171.4 586.4 L172.7 585.6 L174.0 584.8 L175.2 584.0 L176.5 583.2 L177.8 582.5 L179.1 581.7 L180.4 580.9 L181.7 580.2 L183.0 579.4 L184.3 578.7 L185.6 578.0 L187.0 577.3 L188.3 576.6 L189.7 576.0 L191.0 575.4 L192.4 574.8 L193.8 574.2 L195.2 573.7 L196.6 573.2 L198.0 572.7 L199.4 572.2 L200.9 571.7 L202.3 571.3 L203.7 570.9 L205.2 570.4 L206.6 570.0 L208.1 569.6 L209.5 569.2 L211.0 568.8 L212.4 568.4 L213.9 568.0 L215.3 567.7 L216.8 567.3 L218.2 566.9 L219.7 566.5 L221.2 566.2 L222.6 565.8 L224.1 565.4 L225.5 565.1 L227.0 564.7 L228.5 564.3 L229.9 564.0 L231.4 563.6 L232.8 563.3 L234.3 562.9 L235.8 562.6 L237.2 562.2 L238.7 561.9 L240.1 561.6 L241.6 561.2 L243.1 560.9 L244.5 560.5 L246.0 560.2 L247.5 559.9 L248.9 559.5 L250.4 559.2 L251.9 558.9 L253.3 558.5 L254.8 558.2 L256.3 557.9 L257.7 557.5 L259.2 557.2 L260.7 556.9 L262.1 556.5 L263.6 556.2 L265.1 555.9 L266.5 555.6 L268.0 555.3 L269.5 554.9 L270.9 554.6 L272.4 554.3 L273.9 554.0 L275.4 553.7 L276.8 553.4 L278.3 553.1 L279.8 552.8 L281.2 552.5 L282.7 552.2 L284.2 552.0 L285.7 551.7 L287.1 551.4 L288.6 551.1 L290.1 550.8 L291.6 550.5 L293.1 550.3 L294.5 550.0 L296.0 549.7 L297.5 549.4 L299.0 549.1 L300.4 548.8 L301.9 548.6 L303.4 548.3 L304.9 548.0 L306.3 547.7 L307.8 547.4 L309.3 547.1 L310.8 546.8 L312.2 546.5 L313.7 546.2 L315.2 545.9 L316.7 545.6 L318.1 545.3 L319.6 545.0 L321.1 544.7 L322.5 544.4 L324.0 544.1 L325.5 543.8 L327.0 543.5 L328.4 543.2 L329.9 542.9 L331.4 542.6 L332.8 542.3 L334.3 542.0 L335.8 541.7 L337.3 541.4 L338.7 541.1 L340.2 540.8 L341.7 540.4 L343.1 540.1 L344.6 539.8 L346.1 539.5 L347.6 539.2 L349.0 539.0 L350.5 538.7 L352.0 538.4 L353.5 538.1 L354.9 537.8 L356.4 537.5 L357.9 537.2 L359.4 537.0 L360.8 536.7 L362.3 536.4 L363.8 536.2 L365.3 535.9 L366.8 535.6 L368.2 535.4 L369.7 535.1 L371.2 534.8 L372.7 534.5 L374.1 534.2 L375.6 533.9 L377.1 533.6 L378.5 533.2 L380.0 532.9 L381.4 532.5 L382.9 532.1 L384.3 531.7 L385.8 531.3 L387.2 530.9 L388.7 530.5 L390.1 530.1 L391.6 529.6 L393.0 529.2 L394.4 528.8 L395.9 528.3 L397.3 527.9 L398.8 527.5 L400.2 527.1 L401.6 526.6 L403.1 526.2 L404.5 525.8 L406.0 525.3 L407.4 524.9 L408.9 524.5 L410.3 524.1 L411.7 523.6 L413.2 523.2 L414.6 522.8 L416.1 522.4 L417.5 521.9 L419.0 521.5 L420.4 521.1 L421.8 520.7 L423.3 520.3 L424.7 519.9 L426.2 519.5 L427.6 519.1 L429.1 518.7 L430.5 518.3 L432.0 517.9 L433.4 517.6 L434.9 517.2 L436.4 516.9 L437.8 516.5 L439.3 516.2 L440.7 515.8 L442.2 515.5 L443.7 515.2 L445.1 514.8 L446.6 514.5 L448.1 514.2 L449.5 513.9 L451.0 513.6 L452.5 513.2 L454.0 512.9 L455.4 512.6 L456.9 512.3 L458.4 512.0 L459.9 511.7 L461.3 511.5 L462.8 511.2 L464.3 510.9 L465.8 510.6 L467.2 510.3 L468.7 510.0 L470.2 509.8 L471.7 509.5 L473.2 509.2 L474.6 509.0 L476.1 508.7 L477.6 508.5 L479.1 508.2 L480.6 508.0 L482.1 507.8 L483.5 507.5 L485.0 507.3 L486.5 507.1 L488.0 506.8 L489.5 506.6 L491.0 506.4 L492.5 506.2 L493.9 506.0 L495.4 505.8 L496.9 505.6 L498.4 505.4 L499.9 505.2 L501.4 505.1 L502.9 504.9 L504.4 504.7 L505.9 504.5 L507.4 504.4 L508.9 504.2 L510.4 504.0 L511.8 503.8 L513.3 503.7 L514.8 503.5 L516.3 503.3 L517.8 503.1 L519.3 503.0 L520.8 502.8 L522.3 502.6 L523.8 502.4 L525.3 502.2 L526.8 502.0 L528.3 501.8 L529.7 501.6 L531.2 501.4 L532.7 501.1 L534.2 500.9 L535.7 500.7 L537.2 500.5 L538.7 500.2 L540.1 500.0 L541.6 499.8 L543.1 499.5 L544.6 499.3 L546.1 499.0 L547.6 498.8 L549.0 498.5 L550.5 498.3 L552.0 498.0 L553.5 497.8 L555.0 497.5 L556.4 497.2 L557.9 497.0 L559.4 496.7 L560.9 496.5 L562.4 496.2 L563.8 495.9 L565.3 495.7 L566.8 495.4 L568.3 495.1 L569.8 494.9 L571.2 494.6 L572.7 494.3 L574.2 494.0 L575.7 493.8 L577.1 493.5 L578.6 493.2 L580.1 492.9 L581.6 492.6 L583.1 492.3 L584.5 492.0 L586.0 491.7 L587.5 491.4 L588.9 491.1 L590.4 490.8 L591.9 490.5 L593.4 490.2 L594.8 489.9 L596.3 489.6 L597.8 489.3 L599.3 489.0 L600.7 488.7 L602.2 488.4 L603.7 488.2 L605.2 487.9 L606.6 487.6 L608.1 487.4 L609.6 487.1 L611.1 486.9 L612.6 486.6 L614.1 486.4 L615.5 486.2 L617.0 486.0 L618.5 485.8 L620.0 485.6 L621.5 485.4 L623.0 485.2 L624.5 485.0 L626.0 484.9 L627.4 484.7 L628.9 484.5 L630.4 484.4 L631.9 484.2 L633.4 484.1 L634.9 483.9 L636.4 483.8 L637.9 483.7 L639.4 483.5 L640.9 483.4 L642.4 483.2 L643.9 483.1 L645.4 483.0 L646.9 482.8 L648.4 482.7 L649.9 482.6 L651.4 482.4 L652.9 482.3 L654.4 482.2 L655.9 482.0 L657.4 481.9 L658.9 481.8 L660.4 481.7 L661.9 481.5 L663.4 481.4 L664.9 481.3 L666.4 481.2 L667.9 481.0 L669.4 480.9 L670.9 480.8 L672.4 480.7 L673.9 480.6 L675.4 480.4 L676.9 480.3 L678.4 480.2 L679.9 480.1 L681.4 480.0 L682.9 479.8 L684.4 479.7 L685.9 479.6 L687.4 479.5 L688.9 479.3 L690.3 479.2 L691.8 479.0 L693.3 478.9 L694.8 478.8 L696.3 478.6 L697.8 478.4 L699.3 478.3 L700.8 478.1 L702.3 477.9 L703.8 477.7 L705.3 477.6 L706.8 477.3 L708.3 477.1 L709.8 476.9 L711.3 476.6 L712.8 476.4 L714.2 476.1 L715.7 475.7 L717.1 475.4 L718.5 475.0 L720.0 474.5 L721.4 473.9 L722.8 473.2 L724.1 472.6 L725.5 471.8 L726.7 471.1 L728.0 470.3 L729.2 469.5 L730.3 468.5 L731.5 467.5 L732.6 466.5 L733.7 465.5 L734.8 464.4 L735.9 463.3 L736.9 462.2 L738.0 461.2 L739.0 460.0 L739.9 458.8 L740.9 457.6 L741.8 456.4 L742.7 455.1 L743.7 453.9 L744.6 452.8 L745.6 451.7 L746.7 450.7 L747.8 449.8 L749.0 448.9 L750.3 448.2 L751.7 447.5 L753.0 446.8 L754.4 446.3 L755.9 445.8 L757.3 445.4 L758.8 444.9 L760.1 444.3 L761.4 443.6 L762.6 442.6 L763.7 441.6 L764.8 440.5 L765.7 439.4 L766.6 438.1 L767.4 436.9 L768.2 435.6 L769.1 434.4 L770.1 433.2 L771.1 432.2 L772.2 431.1 L773.3 430.1 L774.4 429.1 L775.4 427.9 L776.3 426.8 L777.2 425.6 L778.1 424.3 L779.0 423.1 L779.9 421.9 L780.8 420.7 L781.7 419.5 L782.6 418.3 L783.5 417.1 L784.4 415.9 L785.3 414.7 L786.2 413.5 L787.0 412.2 L788.0 411.0 L788.8 409.8 L789.7 408.5 L790.3 407.2 L790.9 405.9 L791.4 404.4 L791.9 403.0 L792.3 401.6 L792.8 400.1 L793.2 398.7 L793.7 397.2 L794.2 395.8 L794.7 394.4 L795.2 393.0 L795.6 391.5 L796.1 390.1 L796.6 388.7 L797.0 387.3 L797.4 385.8 L797.9 384.4 L798.3 382.9 L798.7 381.5 L799.1 380.0 L799.5 378.6 L799.9 377.1 L800.3 375.7 L800.7 374.2 L801.1 372.8 L801.6 371.4 L802.0 369.9 L802.5 368.5 L802.9 367.1 L803.4 365.6 L803.9 364.2 L804.5 362.8 L805.1 361.5 L805.7 360.1 L806.2 358.7 L806.6 357.2 L807.0 355.8 L807.4 354.4 L807.8 352.9 L808.2 351.4 L808.5 350.0 L808.8 348.5 L809.2 347.0 L809.5 345.6 L809.8 344.1 L810.2 342.6 L810.5 341.1 L810.8 339.7 L811.1 338.2 L811.4 336.7 L811.6 335.2 L811.8 333.8 L812.0 332.3 L812.2 330.8 L812.4 329.3 L812.6 327.8 L812.7 326.3 L812.9 324.8 L813.0 323.3 L813.2 321.8 L813.3 320.3 L813.5 318.8 L813.6 317.3 L813.8 315.8 L814.0 314.3 L814.2 312.9 L814.5 311.4 L814.8 309.9 L815.2 308.4 L815.5 307.0 L815.8 305.5 L816.0 304.0 L816.2 302.5 L816.3 301.0 L816.4 299.5 L816.5 298.0 L816.5 296.5 L816.6 295.0 L816.6 293.5 L816.7 292.0 L816.7 290.5 L816.8 289.0 L816.8 287.5 L816.9 286.0 L816.9 284.5 L817.0 283.0 L817.0 281.5 L817.1 280.0 L817.2 278.5 L817.4 277.0"/>
<path stroke="#ff0000" stroke-width="3.8" d="M140.0 535.5 L140.0 535.0 L140.2 533.5 L140.5 532.0 L140.8 530.5 L141.1 529.1 L141.5 527.6 L141.9 526.2 L142.4 524.8 L142.5 524.5 M144.5 520.6 L144.7 520.3 L145.6 519.1 L146.6 518.0 L147.8 517.1 L148.9 516.1 L150.1 515.1 L151.2 514.1 L152.2 513.0 L152.6 512.7 M155.9 509.8 L156.0 509.7 L157.2 508.8 L158.4 507.9 L159.6 507.0 L160.8 506.1 L162.0 505.2 L163.2 504.3 L164.4 503.5 L165.0 503.1 M168.7 500.8 L169.1 500.6 L170.4 499.9 L171.7 499.2 L173.1 498.6 L174.4 497.9 L175.8 497.3 L177.2 496.7 L178.6 496.2 L178.9 496.1 M183.1 494.6 L183.3 494.6 L184.7 494.1 L186.2 493.7 L187.6 493.3 L189.1 492.9 L190.5 492.5 L192.0 492.1 L193.4 491.8 L193.5 491.8 M197.5 490.8 L197.8 490.7 L199.3 490.4 L200.7 490.0 L202.2 489.7 L203.6 489.3 L205.1 488.9 L206.6 488.6 L207.5 488.3 M211.2 487.4 L211.4 487.3 L212.9 486.9 L214.3 486.6 L215.8 486.2 L217.2 485.9 L218.7 485.5 L220.2 485.2 L220.8 485.1 M224.5 484.3 L224.6 484.3 L226.0 484.0 L227.5 483.7 L229.0 483.5 L230.5 483.2 L231.9 483.0 L233.4 482.7 L234.2 482.6 M238.0 482.0 L238.4 482.0 L239.9 481.8 L241.3 481.6 L242.8 481.3 L244.3 481.1 L245.8 480.9 L247.3 480.7 L247.8 480.6 M251.6 479.9 L251.7 479.9 L253.2 479.7 L254.7 479.4 L256.2 479.1 L257.6 478.9 L259.1 478.6 L260.6 478.3 L261.2 478.2 M264.9 477.5 L265.0 477.5 L266.5 477.3 L268.0 477.0 L269.5 476.8 L271.0 476.6 L272.4 476.4 L273.9 476.2 L274.7 476.1 M278.7 475.6 L278.9 475.6 L280.4 475.4 L281.9 475.2 L283.4 475.1 L284.9 474.9 L286.4 474.8 L287.8 474.6 L288.9 474.5 M292.9 474.1 L293.3 474.1 L294.8 473.9 L296.3 473.8 L297.8 473.7 L299.3 473.5 L300.8 473.4 L302.3 473.2 L303.2 473.1 M307.1 472.7 L307.3 472.7 L308.8 472.5 L310.3 472.3 L311.8 472.2 L313.2 472.0 L314.7 471.8 L316.2 471.6 L317.3 471.5 M321.2 471.0 L321.2 471.0 L322.7 470.8 L324.2 470.6 L325.7 470.4 L327.1 470.2 L328.6 470.0 L330.1 469.8 L331.1 469.6 M334.9 469.1 L335.1 469.1 L336.6 468.8 L338.0 468.6 L339.5 468.4 L341.0 468.2 L342.5 467.9 L344.0 467.7 L344.7 467.6 M348.5 467.0 L348.9 466.9 L350.4 466.7 L351.9 466.5 L353.4 466.2 L354.8 466.0 L356.3 465.7 L357.8 465.4 L358.2 465.4 M362.0 464.7 L362.2 464.6 L363.7 464.4 L365.2 464.1 L366.7 463.8 L368.1 463.5 L369.6 463.2 L371.1 462.9 L371.4 462.9 M375.1 462.1 L375.5 462.0 L377.0 461.7 L378.4 461.4 L379.9 461.1 L381.4 460.8 L382.9 460.5 L384.3 460.2 L384.4 460.2 M388.1 459.5 L388.3 459.4 L389.7 459.2 L391.2 458.9 L392.7 458.6 L394.2 458.3 L395.6 458.1 L397.1 457.8 L397.7 457.7 M401.5 457.1 L401.6 457.1 L403.0 456.9 L404.5 456.6 L406.0 456.4 L407.5 456.2 L409.0 456.0 L410.5 455.8 L411.3 455.7 M415.2 455.1 L415.4 455.1 L416.9 454.9 L418.4 454.7 L419.9 454.5 L421.4 454.3 L422.9 454.1 L424.4 454.0 L425.2 453.9 M429.1 453.4 L429.3 453.4 L430.8 453.2 L432.3 453.0 L433.8 452.9 L435.3 452.7 L436.8 452.5 L438.3 452.4 L439.3 452.3 M443.3 451.9 L443.8 451.8 L445.3 451.7 L446.7 451.5 L448.2 451.4 L449.7 451.2 L451.2 451.1 L452.7 451.0 L453.6 450.9 M457.7 450.5 L457.7 450.5 L459.2 450.4 L460.7 450.2 L462.2 450.1 L463.7 450.0 L465.2 449.9 L466.7 449.7 L468.1 449.6 M472.1 449.3 L472.2 449.3 L473.7 449.1 L475.2 449.0 L476.7 448.9 L478.2 448.7 L479.7 448.6 L481.1 448.5 L482.5 448.3 M486.5 448.0 L486.6 448.0 L488.1 447.8 L489.6 447.7 L491.1 447.5 L492.6 447.4 L494.1 447.3 L495.6 447.1 L496.9 447.0 M500.9 446.6 L501.1 446.6 L502.6 446.5 L504.1 446.3 L505.6 446.2 L507.1 446.0 L508.6 445.9 L510.1 445.7 L511.2 445.6 M515.2 445.2 L515.5 445.2 L517.0 445.0 L518.5 444.9 L520.0 444.7 L521.5 444.5 L523.0 444.4 L524.5 444.2 L525.3 444.1 M529.3 443.6 L529.4 443.6 L530.9 443.4 L532.4 443.2 L533.9 443.0 L535.4 442.8 L536.9 442.6 L538.4 442.3 L539.2 442.2 M543.0 441.6 L543.3 441.6 L544.8 441.3 L546.3 441.1 L547.7 440.8 L549.2 440.6 L550.7 440.3 L552.2 440.1 L552.7 440.0 M556.4 439.4 L556.6 439.3 L558.1 439.1 L559.6 438.8 L561.1 438.5 L562.5 438.3 L564.0 438.0 L565.5 437.7 L566.0 437.7 M569.7 437.0 L569.9 436.9 L571.4 436.7 L572.9 436.4 L574.4 436.1 L575.9 435.9 L577.3 435.6 L578.8 435.3 L579.3 435.2 M583.0 434.5 L583.2 434.5 L584.7 434.2 L586.2 433.9 L587.7 433.6 L589.1 433.3 L590.6 433.1 L592.1 432.8 L592.4 432.7 M596.1 432.0 L596.5 431.9 L598.0 431.6 L599.5 431.3 L600.9 431.0 L602.4 430.8 L603.9 430.5 L605.4 430.2 L605.6 430.2 M609.4 429.5 L609.8 429.5 L611.3 429.2 L612.8 429.0 L614.2 428.7 L615.7 428.5 L617.2 428.3 L618.7 428.1 L619.2 428.0 M623.0 427.5 L623.1 427.5 L624.6 427.3 L626.1 427.1 L627.6 426.9 L629.1 426.8 L630.6 426.6 L632.1 426.4 L633.1 426.3 M637.1 425.8 L637.6 425.8 L639.0 425.6 L640.5 425.5 L642.0 425.3 L643.5 425.2 L645.0 425.0 L646.5 424.8 L647.3 424.8 M651.3 424.3 L651.5 424.3 L653.0 424.2 L654.5 424.0 L656.0 423.8 L657.5 423.7 L659.0 423.5 L660.5 423.4 L661.5 423.2 M665.5 422.8 L665.9 422.8 L667.4 422.6 L668.9 422.4 L670.4 422.3 L671.9 422.1 L673.4 422.0 L674.9 421.8 L675.7 421.7 M679.7 421.3 L679.9 421.3 L681.4 421.1 L682.9 420.9 L684.3 420.8 L685.8 420.6 L687.3 420.4 L688.8 420.3 L689.8 420.1 M693.7 419.7 L693.8 419.6 L695.3 419.5 L696.8 419.3 L698.3 419.1 L699.8 418.9 L701.3 418.7 L702.8 418.5 L703.7 418.3 M707.5 417.8 L707.9 417.7 L709.4 417.5 L710.9 417.2 L712.3 416.9 L713.8 416.6 L715.2 416.2 L716.5 415.8 L716.8 415.7 M719.6 414.2 L719.8 414.0 L721.0 413.1 L722.1 412.0 L723.3 411.0 L724.4 409.9 L725.6 408.8 L725.6 408.8 M728.1 407.0 L728.5 406.8 L729.7 406.0 L731.1 405.2 L732.4 404.4 L733.7 403.6 L734.9 402.8 L735.1 402.7 M737.5 400.7 L737.5 400.6 L738.5 399.5 L739.4 398.2 L740.3 397.0 L741.3 396.0 L742.4 395.0 L742.8 394.6 M745.2 392.7 L745.5 392.4 L746.7 391.5 L747.9 390.5 L749.0 389.5 L750.2 388.5 L751.3 387.5 L751.3 387.5 M753.8 385.5 L754.1 385.3 L755.3 384.6 L756.7 384.1 L758.1 383.6 L759.6 383.0 L760.9 382.4 L761.6 382.1 M764.8 380.8 L765.2 380.7 L766.6 380.1 L767.6 379.2 L768.3 377.9 L768.8 376.4 L769.4 374.9 L769.6 374.3 M771.6 372.0 L772.1 371.8 L773.4 371.1 L774.5 370.1 L775.5 369.0 L776.4 367.7 L777.3 366.5 L777.4 366.4 M779.1 363.8 L779.3 363.6 L780.1 362.4 L781.0 361.1 L781.8 359.9 L782.7 358.7 L783.6 357.4 L783.8 357.1 M785.6 354.5 L785.8 354.1 L786.7 352.9 L787.6 351.7 L788.5 350.5 L789.4 349.3 L790.2 348.1 L790.6 347.3 M792.8 343.5 L793.0 343.3 L793.7 341.9 L794.1 340.5 L794.4 339.1 L794.5 337.6 L794.7 336.1 L794.8 334.6 L794.9 333.2 M795.4 328.1 L795.4 328.1 L795.5 326.6 L795.6 325.1 L795.8 323.6 L796.0 322.1 L796.2 320.6 L796.4 319.1 L796.7 317.7 M797.8 312.5 L797.8 312.3 L798.3 310.8 L798.7 309.4 L799.1 308.0 L799.6 306.5 L800.0 305.1 L800.5 303.6 L800.8 302.4 M802.1 297.3 L802.2 296.9 L802.6 295.4 L803.0 293.9 L803.3 292.5 L803.7 291.0 L804.1 289.6 L804.5 288.1 L804.8 287.1 M806.3 282.1 L806.4 281.9 L806.9 280.5 L807.5 279.1 L808.1 277.7 L808.5 276.3 L808.7 274.8 L808.8 273.3 L808.9 272.0 M809.2 266.7 L809.2 266.3 L809.3 264.8 L809.4 263.3 L809.5 261.8 L809.7 260.3 L809.8 258.8 L809.9 257.3 L810.0 256.2 M810.7 251.0 L810.7 250.9 L811.0 249.4 L811.3 247.9 L811.6 246.4 L811.9 245.0 L812.2 243.5 L812.5 242.0 L812.8 240.7 M813.7 235.5 L813.8 235.1 L814.1 233.7 L814.4 232.2 L814.7 230.7 L815.1 229.3 L815.5 227.8 L815.9 226.4 L816.2 225.3"/>
<path stroke="#ff0000" stroke-width="4.2" stroke-dasharray="4.35 4.37" d="M140.1 264.2 H817.2"/>
<path stroke="#00ff00" stroke-width="3.8" d="M140.0 530.0 L140.0 529.5 L140.2 528.0 L140.5 526.5 L140.8 525.0 L141.1 523.6 L141.5 522.1 L142.0 520.7 L142.6 519.3 L142.7 519.1 M144.7 515.2 L144.9 514.9 L145.7 513.6 L146.7 512.5 L147.7 511.4 L148.8 510.3 L149.8 509.3 L150.9 508.2 L151.9 507.1 L152.3 506.8 M155.5 503.8 L155.6 503.7 L156.8 502.7 L157.9 501.8 L159.1 500.9 L160.3 500.0 L161.5 499.1 L162.7 498.2 L164.0 497.4 L164.5 497.1 M168.3 494.9 L168.7 494.7 L170.1 494.0 L171.4 493.4 L172.8 492.8 L174.2 492.2 L175.6 491.7 L177.0 491.2 L178.4 490.7 L178.8 490.6 M182.9 489.2 L183.1 489.1 L184.6 488.7 L186.0 488.2 L187.5 487.8 L188.9 487.4 L190.3 487.0 L191.8 486.6 L193.2 486.2 L193.3 486.2 M197.3 485.2 L197.6 485.1 L199.1 484.7 L200.5 484.4 L202.0 484.0 L203.4 483.6 L204.9 483.3 L206.4 482.9 L207.3 482.7 M211.0 481.7 L211.2 481.7 L212.7 481.3 L214.1 481.0 L215.6 480.6 L217.1 480.3 L218.5 479.9 L220.0 479.6 L220.6 479.5 M224.4 478.8 L224.9 478.7 L226.4 478.4 L227.8 478.2 L229.3 477.9 L230.8 477.7 L232.3 477.5 L233.8 477.3 L234.2 477.3 M238.2 476.8 L238.2 476.8 L239.7 476.6 L241.2 476.4 L242.7 476.2 L244.2 476.0 L245.7 475.8 L247.2 475.6 L248.1 475.5 M251.9 474.8 L252.1 474.8 L253.6 474.5 L255.1 474.3 L256.5 474.0 L258.0 473.7 L259.5 473.4 L261.0 473.1 L261.4 473.0 M265.1 472.3 L265.4 472.2 L266.9 472.0 L268.3 471.7 L269.8 471.4 L271.3 471.2 L272.8 471.0 L274.3 470.7 L274.7 470.7 M278.6 470.1 L278.7 470.1 L280.2 469.9 L281.7 469.7 L283.2 469.5 L284.7 469.3 L286.2 469.1 L287.6 468.9 L288.6 468.8 M292.5 468.4 L292.6 468.3 L294.1 468.2 L295.6 468.0 L297.1 467.8 L298.6 467.6 L300.1 467.5 L301.6 467.3 L302.6 467.2 M306.6 466.7 L307.0 466.6 L308.5 466.4 L310.0 466.2 L311.5 466.0 L313.0 465.8 L314.5 465.6 L316.0 465.5 L316.6 465.4 M320.4 464.8 L320.4 464.8 L321.9 464.6 L323.4 464.4 L324.9 464.2 L326.4 464.0 L327.9 463.8 L329.4 463.6 L330.3 463.5 M334.2 462.9 L334.3 462.9 L335.8 462.7 L337.3 462.5 L338.8 462.2 L340.3 462.0 L341.8 461.8 L343.2 461.6 L344.1 461.5 M347.9 460.9 L348.2 460.8 L349.7 460.6 L351.2 460.4 L352.6 460.2 L354.1 459.9 L355.6 459.7 L357.1 459.4 L357.6 459.4 M361.4 458.7 L361.5 458.7 L363.0 458.5 L364.5 458.2 L366.0 458.0 L367.5 457.7 L368.9 457.4 L370.4 457.2 L371.1 457.1 M374.8 456.4 L374.8 456.4 L376.3 456.1 L377.8 455.9 L379.3 455.6 L380.8 455.3 L382.2 455.1 L383.7 454.8 L384.4 454.7 M388.1 454.0 L388.2 454.0 L389.6 453.8 L391.1 453.5 L392.6 453.2 L394.1 453.0 L395.6 452.7 L397.0 452.5 L397.8 452.4 M401.5 451.8 L402.0 451.7 L403.5 451.5 L404.9 451.2 L406.4 451.0 L407.9 450.7 L409.4 450.5 L410.9 450.3 L411.3 450.2 M415.1 449.6 L415.3 449.6 L416.8 449.4 L418.3 449.1 L419.8 448.9 L421.3 448.7 L422.8 448.5 L424.2 448.3 L425.0 448.2 M428.8 447.6 L429.2 447.6 L430.7 447.4 L432.2 447.2 L433.7 447.0 L435.2 446.9 L436.7 446.7 L438.1 446.5 L438.9 446.5 M442.9 446.0 L443.1 446.0 L444.6 445.9 L446.1 445.7 L447.6 445.6 L449.1 445.5 L450.6 445.3 L452.1 445.2 L453.3 445.1 M457.3 444.8 L457.6 444.7 L459.1 444.6 L460.6 444.5 L462.1 444.4 L463.6 444.2 L465.1 444.1 L466.6 444.0 L467.8 443.9 M471.9 443.6 L472.1 443.6 L473.6 443.5 L475.0 443.3 L476.5 443.2 L478.0 443.1 L479.5 443.0 L481.0 442.8 L482.3 442.7 M486.4 442.4 L486.5 442.4 L488.0 442.2 L489.5 442.1 L491.0 442.0 L492.5 441.8 L494.0 441.7 L495.5 441.6 L496.7 441.4 M500.8 441.1 L501.0 441.1 L502.5 440.9 L504.0 440.8 L505.5 440.6 L507.0 440.5 L508.5 440.4 L510.0 440.2 L511.1 440.1 M515.1 439.7 L515.4 439.7 L516.9 439.5 L518.4 439.4 L519.9 439.2 L521.4 439.1 L522.9 438.9 L524.4 438.7 L525.3 438.6 M529.2 438.2 L529.4 438.1 L530.9 438.0 L532.3 437.8 L533.8 437.6 L535.3 437.4 L536.8 437.2 L538.3 437.0 L539.2 436.8 M543.0 436.3 L543.2 436.2 L544.7 436.0 L546.2 435.8 L547.7 435.5 L549.2 435.3 L550.7 435.1 L552.1 434.8 L552.8 434.7 M556.6 434.1 L556.6 434.1 L558.1 433.8 L559.6 433.6 L561.0 433.3 L562.5 433.1 L564.0 432.8 L565.5 432.6 L566.2 432.4 M570.0 431.8 L570.4 431.7 L571.9 431.5 L573.4 431.2 L574.9 431.0 L576.3 430.7 L577.8 430.4 L579.3 430.2 L579.6 430.1 M583.3 429.4 L583.7 429.4 L585.2 429.1 L586.7 428.8 L588.2 428.5 L589.6 428.3 L591.1 428.0 L592.6 427.7 L592.8 427.7 M596.5 427.0 L597.0 426.9 L598.5 426.6 L600.0 426.3 L601.5 426.1 L602.9 425.8 L604.4 425.5 L605.9 425.3 L606.1 425.2 M609.9 424.6 L610.3 424.6 L611.8 424.3 L613.3 424.1 L614.8 423.9 L616.3 423.7 L617.8 423.5 L619.2 423.3 L619.8 423.2 M623.8 422.8 L624.2 422.7 L625.7 422.6 L627.2 422.4 L628.7 422.2 L630.2 422.1 L631.7 421.9 L633.2 421.8 L634.0 421.7 M638.0 421.3 L638.1 421.3 L639.6 421.2 L641.1 421.0 L642.6 420.9 L644.1 420.8 L645.6 420.6 L647.1 420.5 L648.3 420.4 M652.4 420.0 L652.6 419.9 L654.1 419.8 L655.6 419.6 L657.1 419.5 L658.6 419.3 L660.1 419.2 L661.6 419.0 L662.6 418.9 M666.5 418.5 L666.5 418.5 L668.0 418.3 L669.5 418.1 L671.0 417.9 L672.5 417.8 L674.0 417.6 L675.5 417.4 L676.6 417.3 M680.6 416.8 L681.0 416.7 L682.5 416.5 L683.9 416.3 L685.4 416.1 L686.9 416.0 L688.4 415.8 L689.9 415.6 L690.6 415.5 M694.4 414.9 L694.9 414.9 L696.4 414.7 L697.8 414.5 L699.3 414.2 L700.8 414.0 L702.4 413.8 L703.9 413.6 L704.4 413.6 M708.2 413.1 L708.5 413.0 L710.0 412.8 L711.4 412.5 L712.9 412.2 L714.3 411.9 L715.7 411.6 L717.0 411.2 L717.5 411.0 M720.2 409.4 L720.4 409.3 L721.6 408.3 L722.8 407.3 L724.0 406.3 L725.2 405.3 L726.4 404.4 L726.5 404.3 M729.2 402.6 L729.4 402.5 L730.7 401.7 L732.0 401.0 L733.3 400.2 L734.6 399.4 L735.8 398.6 L736.2 398.3 M738.5 396.2 L738.7 395.9 L739.7 394.7 L740.6 393.6 L741.7 392.5 L742.8 391.5 L743.9 390.4 L743.9 390.4 M746.2 388.3 L746.5 388.1 L747.6 387.1 L748.7 386.1 L749.8 385.0 L750.9 383.9 L752.1 382.9 L752.1 382.8 M754.7 381.0 L754.9 381.0 L756.2 380.4 L757.7 380.0 L759.2 379.6 L760.6 379.1 L762.0 378.5 L763.0 378.0 M765.9 376.5 L766.1 376.4 L767.3 375.6 L768.5 374.7 L769.5 373.7 L770.5 372.6 L771.7 371.6 L772.0 371.3 M774.2 369.1 L774.5 368.7 L775.4 367.5 L776.3 366.3 L777.1 365.1 L778.0 363.8 L778.8 362.6 L778.9 362.5 M780.7 359.9 L780.8 359.7 L781.7 358.5 L782.5 357.2 L783.4 356.0 L784.2 354.8 L785.1 353.5 L785.3 353.2 M787.2 350.7 L787.5 350.3 L788.4 349.1 L789.2 347.9 L790.0 346.6 L790.7 345.3 L791.5 344.0 L792.2 342.6 L792.3 342.4 M794.1 338.2 L794.2 338.1 L794.7 336.6 L795.1 335.2 L795.5 333.8 L795.9 332.3 L796.3 330.9 L796.7 329.4 L797.0 328.1 M798.3 323.0 L798.4 322.6 L798.7 321.1 L799.1 319.7 L799.4 318.2 L799.8 316.8 L800.1 315.3 L800.5 313.8 L800.8 312.8 M802.1 307.7 L802.2 307.6 L802.5 306.1 L802.9 304.6 L803.3 303.2 L803.6 301.7 L803.9 300.3 L804.2 298.8 L804.5 297.4 M805.6 292.2 L805.6 291.9 L806.0 290.5 L806.3 289.0 L806.7 287.5 L807.1 286.0 L807.5 284.6 L807.9 283.1 L808.2 282.1 M810.8 277.5 L810.9 277.4 L811.7 276.2 L812.1 274.8 L812.4 273.4 L812.6 271.9 L812.7 270.4 L812.9 268.9 L813.0 267.4 M813.6 262.2 L813.6 261.8 L813.8 260.3 L814.0 258.9 L814.1 257.4 L814.3 255.9 L814.5 254.4 L814.7 252.9 L814.9 251.7 M815.7 246.5 L815.7 246.5 L815.9 245.0 L816.1 243.5 L816.3 242.0 L816.4 240.5 L816.5 239.0 L816.6 237.5 L816.7 236.1"/>
<path stroke="#00ff00" stroke-width="4.2" stroke-dasharray="4.35 4.37" d="M140.1 360.0 H817.2"/>
<path stroke="#0000ff" stroke-width="3.9" d="M140.0 340.4 L140.0 339.9 L140.0 338.3 L140.0 336.8 L140.0 335.3 L140.0 333.8 L140.0 332.3 L140.0 330.8 L140.0 329.4 L140.0 329.1 M141.6 325.0 L141.7 324.7 L142.4 323.4 L143.2 322.1 L144.1 320.9 L145.0 319.7 L146.0 318.5 L147.0 317.4 L148.0 316.4 L148.3 316.1 M151.6 313.2 L151.8 313.0 L152.8 312.0 L153.8 310.9 L154.8 309.8 L155.9 308.7 L156.9 307.6 L158.0 306.5 L159.1 305.5 L159.5 305.1 M163.0 302.4 L163.4 302.2 L164.6 301.4 L165.9 300.6 L167.2 299.9 L168.5 299.2 L169.8 298.5 L171.2 297.8 L172.5 297.2 L172.9 297.0 M176.9 295.2 L177.1 295.1 L178.5 294.5 L179.8 293.9 L181.2 293.4 L182.6 292.8 L184.0 292.3 L185.5 291.8 L186.9 291.4 L187.5 291.2 M191.7 289.9 L192.1 289.8 L193.6 289.4 L195.1 289.1 L196.5 288.7 L198.0 288.4 L199.4 288.0 L200.9 287.7 L202.4 287.4 L202.7 287.3 M206.9 286.4 L207.2 286.3 L208.7 286.0 L210.2 285.7 L211.7 285.4 L213.1 285.1 L214.6 284.9 L216.1 284.6 L217.6 284.3 L217.9 284.2 M222.2 283.4 L222.5 283.3 L223.9 283.0 L225.4 282.7 L226.9 282.4 L228.3 282.0 L229.8 281.7 L231.3 281.4 L232.7 281.1 L233.1 281.0 M237.4 280.1 L237.6 280.1 L239.1 279.8 L240.6 279.5 L242.0 279.2 L243.5 278.9 L245.0 278.6 L246.5 278.4 L247.9 278.1 L248.4 278.0 M252.7 277.3 L252.9 277.3 L254.4 277.1 L255.8 276.8 L257.3 276.6 L258.8 276.4 L260.3 276.2 L261.8 276.0 L263.3 275.7 L263.7 275.7 M268.1 275.1 L268.2 275.1 L269.7 274.9 L271.2 274.7 L272.7 274.5 L274.2 274.3 L275.7 274.1 L277.2 273.9 L278.7 273.7 L279.1 273.7 M283.5 273.1 L283.6 273.1 L285.1 272.9 L286.6 272.8 L288.1 272.6 L289.6 272.4 L291.1 272.2 L292.6 272.1 L294.1 271.9 L294.6 271.8 M298.9 271.4 L299.0 271.3 L300.5 271.2 L302.0 271.0 L303.5 270.8 L305.0 270.6 L306.5 270.4 L308.0 270.3 L309.5 270.1 L310.0 270.0 M314.3 269.4 L314.4 269.3 L315.9 269.1 L317.4 268.9 L318.8 268.6 L320.3 268.4 L321.8 268.1 L323.3 267.8 L324.7 267.5 L325.3 267.4 M329.6 266.6 L329.7 266.6 L331.1 266.3 L332.6 266.0 L334.1 265.7 L335.5 265.4 L337.0 265.1 L338.5 264.7 L340.0 264.4 L340.5 264.3 M344.8 263.4 L344.8 263.4 L346.3 263.1 L347.8 262.7 L349.2 262.4 L350.7 262.1 L352.2 261.8 L353.7 261.5 L355.1 261.2 L355.8 261.1 M360.0 260.3 L360.0 260.3 L361.5 260.0 L363.0 259.7 L364.5 259.5 L365.9 259.2 L367.4 258.9 L368.9 258.7 L370.4 258.4 L371.0 258.3 M375.3 257.6 L375.8 257.5 L377.3 257.3 L378.8 257.1 L380.3 256.8 L381.7 256.6 L383.2 256.4 L384.7 256.1 L386.2 255.9 L386.4 255.9 M390.7 255.2 L391.1 255.2 L392.6 254.9 L394.1 254.7 L395.6 254.5 L397.1 254.3 L398.6 254.1 L400.0 253.9 L401.5 253.6 L401.7 253.6 M406.0 253.0 L406.5 252.9 L408.0 252.7 L409.5 252.5 L410.9 252.3 L412.4 252.1 L413.9 251.9 L415.4 251.7 L416.9 251.5 L417.1 251.5 M421.4 250.9 L421.9 250.8 L423.3 250.7 L424.8 250.5 L426.3 250.3 L427.8 250.1 L429.3 249.9 L430.8 249.7 L432.3 249.6 L432.5 249.5 M436.8 249.1 L437.3 249.0 L438.7 248.8 L440.2 248.7 L441.7 248.5 L443.2 248.3 L444.7 248.2 L446.2 248.0 L447.7 247.8 L448.0 247.8 M452.3 247.3 L452.7 247.3 L454.2 247.1 L455.7 247.0 L457.1 246.8 L458.6 246.6 L460.1 246.5 L461.6 246.3 L463.1 246.1 L463.4 246.1 M467.7 245.6 L468.1 245.6 L469.6 245.4 L471.1 245.2 L472.6 245.1 L474.1 244.9 L475.5 244.7 L477.0 244.5 L478.5 244.4 L478.8 244.3 M483.2 243.9 L483.5 243.8 L485.0 243.7 L486.5 243.5 L488.0 243.4 L489.5 243.2 L491.0 243.1 L492.5 242.9 L494.0 242.8 L494.3 242.7 M498.6 242.3 L498.9 242.3 L500.4 242.2 L501.9 242.0 L503.4 241.9 L504.9 241.8 L506.4 241.6 L507.9 241.5 L509.4 241.4 L509.8 241.3 M514.1 240.9 L514.4 240.9 L515.9 240.8 L517.4 240.6 L518.9 240.5 L520.4 240.4 L521.9 240.2 L523.4 240.1 L524.8 239.9 L525.3 239.9 M529.6 239.4 L529.8 239.4 L531.3 239.3 L532.8 239.1 L534.3 239.0 L535.8 238.8 L537.3 238.6 L538.8 238.5 L540.3 238.3 L540.7 238.3 M545.1 237.8 L545.2 237.7 L546.7 237.6 L548.2 237.4 L549.7 237.2 L551.2 237.1 L552.7 236.9 L554.2 236.7 L555.7 236.5 L556.2 236.5 M560.5 235.9 L560.6 235.9 L562.1 235.7 L563.6 235.6 L565.1 235.4 L566.6 235.2 L568.1 235.0 L569.6 234.8 L571.1 234.6 L571.6 234.5 M575.9 233.9 L576.0 233.9 L577.5 233.7 L579.0 233.5 L580.5 233.3 L582.0 233.0 L583.4 232.8 L584.9 232.6 L586.4 232.4 L586.9 232.3 M591.2 231.6 L591.4 231.6 L592.8 231.3 L594.3 231.1 L595.8 230.9 L597.3 230.6 L598.8 230.4 L600.3 230.2 L601.7 230.0 L602.3 229.9 M606.6 229.3 L606.7 229.2 L608.2 229.0 L609.7 228.8 L611.2 228.6 L612.6 228.4 L614.1 228.3 L615.6 228.1 L617.1 227.9 L617.7 227.8 M622.0 227.3 L622.1 227.3 L623.6 227.1 L625.1 226.9 L626.5 226.7 L628.0 226.6 L629.5 226.4 L631.0 226.2 L632.5 226.0 L633.1 226.0 M637.4 225.5 L637.5 225.5 L639.0 225.3 L640.5 225.1 L642.0 224.9 L643.4 224.8 L644.9 224.6 L646.4 224.4 L647.9 224.2 L648.5 224.1 M652.8 223.6 L652.9 223.6 L654.4 223.4 L655.9 223.2 L657.3 223.0 L658.8 222.9 L660.3 222.7 L661.8 222.5 L663.3 222.3 L663.9 222.2 M668.2 221.6 L668.3 221.6 L669.7 221.3 L671.2 221.1 L672.7 220.9 L674.2 220.7 L675.7 220.5 L677.2 220.3 L678.6 220.0 L679.3 220.0 M683.6 219.4 L683.6 219.4 L685.1 219.2 L686.6 219.0 L688.1 218.8 L689.6 218.6 L691.1 218.4 L692.5 218.3 L694.0 218.1 L694.7 218.0 M699.0 217.6 L699.5 217.5 L701.0 217.4 L702.5 217.2 L704.0 217.0 L705.5 216.8 L707.0 216.6 L708.4 216.4 L709.3 216.2 M713.2 215.6 L713.4 215.5 L714.9 215.3 L716.3 214.9 L717.8 214.6 L719.2 214.3 L720.7 213.9 L722.2 213.4 L722.6 213.3 M725.9 211.9 L726.3 211.7 L727.5 210.9 L728.6 209.9 L729.6 208.8 L730.6 207.6 L731.6 206.5 L732.3 205.7 M734.8 203.4 L734.9 203.3 L736.0 202.3 L737.1 201.3 L738.3 200.3 L739.4 199.4 L740.6 198.4 L741.6 197.7 M744.4 195.7 L744.7 195.5 L746.0 194.7 L747.2 193.9 L748.5 193.1 L749.7 192.3 L751.0 191.4 L751.8 190.9 M754.7 189.0 L754.8 189.0 L756.0 188.2 L757.3 187.4 L758.6 186.7 L760.0 186.0 L761.3 185.3 L762.6 184.7 M765.6 183.0 L765.7 182.9 L767.0 182.2 L768.2 181.3 L769.5 180.5 L770.7 179.6 L771.9 178.7 L772.9 177.9 M775.6 175.8 L775.8 175.6 L777.0 174.6 L778.1 173.6 L779.2 172.6 L780.4 171.6 L781.5 170.6 L782.5 169.5 L782.9 169.2 M786.2 165.4 L786.5 165.1 L787.3 163.8 L788.2 162.6 L789.0 161.3 L789.9 160.1 L790.7 158.8 L791.6 157.6 L792.1 157.0 M795.2 152.3 L795.2 152.2 L795.8 150.9 L796.4 149.5 L796.8 148.0 L797.3 146.6 L797.9 145.2 L798.4 143.8 L798.9 142.7 M800.8 137.5 L800.9 137.2 L801.3 135.8 L801.6 134.3 L801.9 132.9 L802.2 131.4 L802.4 129.9 L802.7 128.4 L802.8 127.4 M803.5 121.8 L803.5 121.5 L803.7 120.0 L803.8 118.5 L804.0 117.0 L804.1 115.5 L804.2 114.0"/>
<path stroke="#0000ff" stroke-width="4.2" stroke-dasharray="4.35 4.37" d="M140.1 314.9 H817.2"/>
<path stroke="#ffb90a" stroke-width="3.8" d="M140.0 580.0 L140.1 579.5 L140.3 578.0 L140.6 576.5 L141.0 575.1 L141.4 573.6 L141.8 572.2 L142.3 570.8 L142.9 569.4 L143.0 569.1 M145.0 565.2 L145.1 564.9 L145.9 563.7 L146.8 562.4 L147.6 561.2 L148.6 560.0 L149.5 558.8 L150.5 557.7 L151.5 556.6 L151.8 556.2 M154.9 553.1 L155.0 553.0 L156.1 552.1 L157.3 551.1 L158.5 550.2 L159.7 549.3 L160.9 548.5 L162.2 547.7 L163.5 546.8 L164.0 546.5 M167.8 544.3 L168.2 544.1 L169.5 543.4 L170.9 542.7 L172.2 542.1 L173.6 541.5 L175.0 540.9 L176.3 540.4 L177.8 539.9 L178.2 539.7 M182.3 538.4 L182.5 538.3 L184.0 537.9 L185.4 537.6 L186.9 537.2 L188.3 536.9 L189.8 536.5 L191.3 536.2 L192.7 535.9 L192.9 535.9 M197.0 535.0 L197.1 535.0 L198.6 534.7 L200.1 534.4 L201.5 534.1 L203.0 533.8 L204.5 533.5 L205.9 533.1 L207.1 532.9 M210.9 532.0 L211.3 531.9 L212.8 531.6 L214.2 531.2 L215.7 530.9 L217.2 530.6 L218.6 530.2 L220.1 529.9 L220.6 529.8 M224.3 529.0 L224.5 529.0 L226.0 528.7 L227.4 528.4 L228.9 528.1 L230.4 527.8 L231.9 527.6 L233.3 527.3 L233.8 527.2 M237.6 526.6 L237.8 526.5 L239.3 526.3 L240.7 526.0 L242.2 525.8 L243.7 525.5 L245.2 525.3 L246.7 525.0 L247.3 524.9 M251.0 524.3 L251.1 524.3 L252.6 524.1 L254.1 523.9 L255.6 523.6 L257.0 523.4 L258.5 523.2 L260.0 522.9 L260.8 522.8 M264.6 522.2 L265.0 522.2 L266.4 522.0 L267.9 521.8 L269.4 521.5 L270.9 521.3 L272.4 521.1 L273.9 520.9 L274.5 520.8 M278.4 520.3 L278.8 520.3 L280.3 520.1 L281.8 519.9 L283.3 519.7 L284.8 519.6 L286.3 519.4 L287.8 519.2 L288.5 519.1 M292.4 518.6 L292.7 518.6 L294.2 518.4 L295.7 518.2 L297.2 518.1 L298.7 517.9 L300.2 517.7 L301.7 517.5 L302.5 517.4 M306.4 516.9 L306.6 516.9 L308.1 516.7 L309.6 516.5 L311.1 516.3 L312.6 516.1 L314.1 515.9 L315.6 515.7 L316.4 515.6 M320.2 515.0 L320.5 515.0 L322.0 514.7 L323.5 514.5 L325.0 514.3 L326.5 514.1 L327.9 513.8 L329.4 513.6 L330.0 513.5 M333.8 512.9 L333.9 512.9 L335.4 512.7 L336.8 512.4 L338.3 512.2 L339.8 511.9 L341.3 511.7 L342.8 511.5 L343.5 511.3 M347.3 510.7 L347.7 510.6 L349.2 510.4 L350.7 510.1 L352.1 509.9 L353.6 509.6 L355.1 509.4 L356.6 509.1 L357.0 509.1 M360.7 508.4 L361.0 508.3 L362.5 508.1 L364.0 507.8 L365.5 507.5 L366.9 507.3 L368.4 507.0 L369.9 506.7 L370.2 506.6 M373.9 505.9 L374.3 505.9 L375.8 505.6 L377.3 505.3 L378.7 505.0 L380.2 504.7 L381.7 504.5 L383.2 504.2 L383.4 504.1 M387.2 503.5 L387.6 503.4 L389.1 503.1 L390.6 502.9 L392.0 502.6 L393.5 502.4 L395.0 502.2 L396.5 502.0 L396.9 501.9 M400.8 501.4 L400.9 501.3 L402.4 501.1 L403.9 500.9 L405.4 500.8 L406.9 500.6 L408.4 500.4 L409.9 500.2 L410.8 500.1 M414.8 499.7 L414.8 499.7 L416.3 499.6 L417.8 499.4 L419.3 499.2 L420.8 499.1 L422.3 498.9 L423.8 498.8 L425.1 498.7 M429.1 498.3 L429.3 498.2 L430.8 498.1 L432.3 497.9 L433.8 497.8 L435.3 497.6 L436.7 497.4 L438.2 497.3 L439.2 497.1 M443.2 496.7 L443.2 496.7 L444.7 496.5 L446.2 496.3 L447.7 496.2 L449.2 496.0 L450.7 495.8 L452.2 495.6 L453.3 495.5 M457.2 495.0 L457.6 495.0 L459.1 494.8 L460.6 494.6 L462.1 494.4 L463.6 494.2 L465.1 494.0 L466.6 493.9 L467.3 493.8 M471.2 493.3 L471.5 493.3 L473.0 493.1 L474.5 492.9 L476.0 492.7 L477.5 492.6 L479.0 492.4 L480.5 492.2 L481.4 492.2 M485.3 491.7 L485.4 491.7 L486.9 491.6 L488.4 491.4 L489.9 491.3 L491.4 491.1 L492.9 491.0 L494.4 490.9 L495.6 490.7 M499.7 490.4 L499.9 490.4 L501.4 490.2 L502.9 490.1 L504.4 490.0 L505.9 489.9 L507.4 489.8 L508.9 489.6 L510.1 489.5 M514.2 489.2 L514.4 489.2 L515.9 489.0 L517.4 488.9 L518.9 488.8 L520.3 488.6 L521.8 488.5 L523.3 488.3 L524.5 488.2 M528.4 487.7 L528.8 487.7 L530.3 487.5 L531.8 487.3 L533.2 487.1 L534.7 486.9 L536.2 486.7 L537.7 486.5 L538.4 486.4 M542.2 485.7 L542.6 485.7 L544.1 485.4 L545.6 485.2 L547.1 484.9 L548.5 484.6 L550.0 484.4 L551.5 484.1 L551.7 484.0 M555.4 483.3 L555.9 483.2 L557.4 483.0 L558.9 482.7 L560.4 482.4 L561.8 482.1 L563.3 481.8 L564.8 481.6 L564.9 481.5 M568.6 480.8 L568.7 480.8 L570.2 480.5 L571.7 480.3 L573.2 480.0 L574.6 479.7 L576.1 479.5 L577.6 479.2 L578.2 479.1 M581.9 478.4 L582.0 478.4 L583.5 478.1 L585.0 477.8 L586.5 477.5 L587.9 477.3 L589.4 477.0 L590.9 476.7 L591.4 476.6 M595.1 475.9 L595.3 475.9 L596.8 475.6 L598.3 475.4 L599.7 475.1 L601.2 474.8 L602.7 474.6 L604.2 474.3 L604.7 474.2 M608.5 473.6 L608.6 473.6 L610.1 473.3 L611.6 473.1 L613.1 472.9 L614.5 472.7 L616.0 472.5 L617.5 472.2 L618.3 472.1 M622.2 471.6 L622.5 471.6 L624.0 471.4 L625.5 471.2 L626.9 471.0 L628.4 470.9 L629.9 470.7 L631.4 470.5 L632.3 470.4 M636.3 470.0 L636.4 470.0 L637.9 469.8 L639.4 469.7 L640.9 469.5 L642.4 469.3 L643.9 469.2 L645.3 469.0 L646.5 468.9 M650.5 468.5 L650.8 468.5 L652.3 468.3 L653.8 468.2 L655.3 468.0 L656.8 467.8 L658.3 467.7 L659.8 467.5 L660.7 467.4 M664.7 467.0 L664.8 467.0 L666.3 466.8 L667.7 466.7 L669.2 466.5 L670.7 466.3 L672.2 466.2 L673.7 466.0 L674.9 465.9 M678.9 465.5 L679.2 465.4 L680.7 465.3 L682.2 465.1 L683.7 464.9 L685.2 464.8 L686.7 464.6 L688.1 464.4 L689.0 464.3 M693.0 463.9 L693.1 463.9 L694.6 463.7 L696.1 463.5 L697.6 463.4 L699.1 463.2 L700.6 463.0 L702.1 462.9 L703.2 462.7 M707.2 462.3 L707.3 462.3 L708.8 462.2 L710.3 462.0 L711.8 461.8 L713.3 461.5 L714.7 461.3 L716.0 460.9 L716.8 460.7 M719.7 459.2 L719.8 459.2 L720.9 458.2 L722.1 457.1 L723.2 456.0 L724.3 454.9 L725.4 453.8 L725.5 453.7 M727.9 451.7 L728.2 451.5 L729.3 450.5 L730.5 449.6 L731.7 448.7 L732.8 447.7 L734.0 446.8 L734.2 446.7 M736.6 444.7 L736.7 444.6 L737.9 443.6 L739.0 442.6 L740.1 441.6 L741.2 440.6 L742.4 439.6 L742.6 439.4 M744.9 437.3 L745.0 437.3 L746.1 436.3 L747.3 435.4 L748.5 434.5 L749.8 433.7 L751.1 432.9 L751.6 432.7 M754.3 431.0 L754.5 430.9 L755.8 430.2 L757.1 429.4 L758.5 428.7 L759.8 427.9 L761.0 427.1 L761.5 426.8 M764.1 425.1 L764.3 424.9 L765.6 423.9 L766.7 423.0 L767.8 422.0 L768.9 421.0 L769.8 419.8 L769.9 419.6 M771.8 417.1 L771.8 417.0 L772.7 415.7 L773.5 414.4 L774.4 413.2 L775.3 412.0 L776.2 410.8 L776.5 410.5 M778.6 408.2 L778.9 407.8 L779.9 406.7 L780.9 405.6 L781.8 404.4 L782.7 403.2 L783.6 402.0 L783.6 401.9 M785.4 399.3 L785.5 399.1 L786.3 397.8 L787.1 396.5 L787.9 395.3 L788.8 394.0 L789.6 392.7 L790.1 392.0 M792.4 388.4 L792.6 388.1 L793.3 386.7 L793.9 385.4 L794.3 384.0 L794.8 382.6 L795.2 381.1 L795.6 379.7 L795.9 378.3 M797.1 373.4 L797.1 373.3 L797.5 371.9 L797.8 370.4 L798.2 368.9 L798.5 367.5 L798.8 366.0 L799.1 364.5 L799.4 363.2 M800.5 358.0 L800.5 357.7 L800.8 356.2 L801.0 354.7 L801.2 353.2 L801.4 351.7 L801.7 350.2 L801.9 348.8 L802.1 347.6 M803.1 342.4 L803.1 342.4 L803.4 340.9 L803.8 339.5 L804.2 338.0 L804.6 336.6 L805.0 335.1 L805.3 333.6 L805.7 332.2 M807.2 327.1 L807.2 326.9 L807.6 325.4 L808.0 324.0 L808.3 322.5 L808.6 321.0 L808.9 319.6 L809.1 318.1 L809.4 316.9 M810.8 311.8 L811.0 311.3 L811.5 309.9 L812.1 308.5 L812.6 307.1 L813.1 305.7 L813.6 304.3 L813.9 302.8 L814.1 301.8 M814.8 296.6 L814.9 296.4 L815.0 294.9 L815.2 293.4 L815.3 291.9 L815.5 290.4 L815.7 288.9 L815.8 287.4 L816.0 286.1 M816.5 280.9 L816.6 280.5 L816.7 279.0 L816.8 277.5 L817.0 276.0 L817.1 274.5 L817.2 273.0 L817.3 271.5 L817.4 270.4"/>
<path stroke="#ffb90a" stroke-width="4.2" stroke-dasharray="4.35 4.37" d="M140.1 399.7 H817.2"/>
</g>
<path fill="#ff0000" d="M825.5 264.2 L838.8 256.5 V271.9 Z"/>
<path fill="#0000ff" d="M825.5 314.9 L838.8 307.2 V322.6 Z"/>
<path fill="#00ff00" d="M825.5 360.0 L838.8 352.3 V367.7 Z"/>
<path fill="#ffb90a" d="M825.5 399.7 L838.8 392.0 V407.4 Z"/>
<rect x="140.1" y="118.0" width="677.2" height="508.8" stroke="#000" stroke-width="2" fill="none"/>
<text x="140.1" y="674.7" text-anchor="middle">0</text>
<text x="226.9" y="674.7" text-anchor="middle">2500</text>
<text x="313.7" y="674.7" text-anchor="middle">5000</text>
<text x="400.5" y="674.7" text-anchor="middle">7500</text>
<text x="487.3" y="674.7" text-anchor="middle">10000</text>
<text x="574.2" y="674.7" text-anchor="middle">12500</text>
<text x="661.0" y="674.7" text-anchor="middle">15000</text>
<text x="747.8" y="674.7" text-anchor="middle">17500</text>
<text x="121.5" y="635.6" text-anchor="end">4</text>
<text x="121.5" y="545.5" text-anchor="end">8</text>
<text x="121.5" y="455.4" text-anchor="end">16</text>
<text x="121.5" y="365.2" text-anchor="end">32</text>
<text x="121.5" y="275.1" text-anchor="end">64</text>
<text x="121.5" y="185.0" text-anchor="end">128</text>
<text x="478.7" y="713.8" text-anchor="middle" style="font-size:27.85px">Cumulative area (square degrees)</text>
<text transform="translate(68.6 372.0) rotate(-90)" text-anchor="middle" style="font-size:27.85px">Depth (µK arcmin)</text>
<text x="219.3" y="47.9" text-anchor="end">f090</text>
<path stroke="#ff0000" stroke-width="4.0" fill="none" d="M237.8 39.3 H276.0"/>
<text x="219.3" y="87.2" text-anchor="end">f150</text>
<path stroke="#00ff00" stroke-width="4.0" fill="none" d="M237.8 78.6 H276.0"/>
<text x="404.0" y="47.9" text-anchor="end">f220</text>
<path stroke="#0000ff" stroke-width="4.0" fill="none" d="M422.3 39.3 H460.5"/>
<text x="404.0" y="87.2" text-anchor="end">ftot</text>
<path stroke="#ffb90a" stroke-width="4.0" fill="none" d="M422.3 78.6 H460.5"/>
<text x="587.6" y="47.9" text-anchor="end">night+day</text>
<path stroke="#000" stroke-width="4.0" fill="none" d="M606.8 39.3 H645.0"/>
<text x="587.6" y="87.2" text-anchor="end">night only</text>
<path stroke="#000" stroke-width="4.0" stroke-dasharray="10.5 5.2" fill="none" d="M606.8 78.6 H645.0"/>
<text x="772.3" y="47.9" text-anchor="end">planck</text>
<path stroke="#000" stroke-width="4.0" stroke-dasharray="4.35 4.45" fill="none" d="M791.0 39.3 H829.4"/>
</svg></body></html>
